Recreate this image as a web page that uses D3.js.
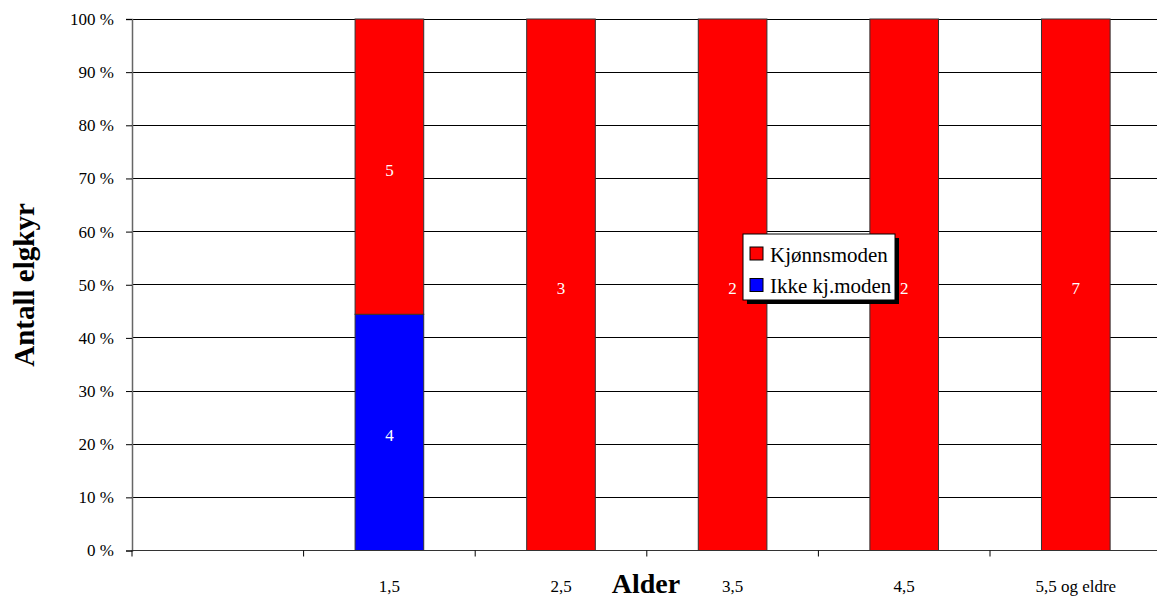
<!DOCTYPE html>
<html><head><meta charset="utf-8">
<script src="https://cdn.jsdelivr.net/npm/d3@7"></script>
<style>body{margin:0;background:#fff;overflow:hidden}svg{display:block}svg text{font-family:"Liberation Serif","Times New Roman",serif}</style>
</head><body>
<svg id="c" width="1157" height="599"></svg>
<script>
const categories = ["", "1,5", "2,5", "3,5", "4,5", "5,5 og eldre"];
const ikkeModen = [0, 4, 0, 0, 0, 0];
const kjonnsmoden = [0, 5, 3, 2, 2, 7];
const seriesNames = ["Kjønnsmoden", "Ikke kj.moden"];
const seriesColors = ["#ff0000", "#0000ff"];
const yTicks = [0,10,20,30,40,50,60,70,80,90,100];

const svg = d3.select("#c");
const font = '"Liberation Serif","Times New Roman",serif';
const mLeft = 132, mTop = 19, mBottom = 550.5, mRight = 1161.6;

const x = d3.scaleBand().domain(categories.map((d,i)=>i)).range([mLeft, mRight]).paddingInner(0.6).paddingOuter(0.3);
const xb = d3.scaleBand().domain(categories.map((d,i)=>i)).range([mLeft, mRight]);
const y = d3.scaleLinear().domain([0,100]).range([mBottom, mTop]);

// gridlines
svg.append("g").selectAll("line").data(yTicks.slice(1)).join("line")
  .attr("x1", mLeft).attr("x2", mRight).attr("y1", d=>y(d)).attr("y2", d=>y(d))
  .attr("stroke", "#000").attr("stroke-width", 1).attr("shape-rendering","crispEdges");

// stacked data
const rows = categories.map((c,i)=>({i, ikke: ikkeModen[i], kj: kjonnsmoden[i], tot: ikkeModen[i]+kjonnsmoden[i]}));
const barG = svg.append("g");
rows.forEach(r=>{
  if (!r.tot) return;
  const segs = [
    {v: r.ikke, y0: 0, y1: r.ikke/r.tot*100, col: seriesColors[1]},
    {v: r.kj, y0: r.ikke/r.tot*100, y1: 100, col: seriesColors[0]}
  ];
  segs.forEach(s=>{
    if (!s.v) return;
    barG.append("rect").attr("x", x(r.i)).attr("width", x.bandwidth())
      .attr("y", y(s.y1)).attr("height", y(s.y0)-y(s.y1))
      .attr("fill", s.col).attr("stroke", "#333").attr("stroke-width", 1);
    barG.append("text").attr("x", x(r.i)+x.bandwidth()/2).attr("y", (y(s.y0)+y(s.y1))/2 + 3)
      .attr("dy", "0.35em").attr("text-anchor","middle").attr("fill","#fff")
      .style("font-family", font).style("font-size", "17px").text(s.v);
  });
});

// y axis
const yAxis = d3.axisLeft(y).tickValues(yTicks).tickSize(6).tickFormat(d=>d+" %");
const ya = svg.append("g").attr("transform", `translate(${mLeft},0)`).call(yAxis);
ya.attr("font-family", null).attr("font-size", null);
ya.select(".domain").attr("stroke","#666").attr("stroke-width",1.5);
ya.selectAll(".tick line").attr("stroke","#000");
ya.selectAll("text").style("font-family", font).style("font-size", "17px").attr("fill","#000").attr("x", -18);

// x axis
const xa = svg.append("g").attr("transform", `translate(0,${mBottom})`);
xa.append("line").attr("x1", mLeft).attr("x2", mRight).attr("stroke","#333").attr("stroke-width",1);
const bounds = categories.map((c,i)=>xb(i));
xa.selectAll("line.t").data(bounds).join("line").attr("class","t")
  .attr("x1", d=>d).attr("x2", d=>d).attr("y1",0).attr("y2",6).attr("stroke","#000");
xa.selectAll("text").data(categories).join("text")
  .attr("x", (d,i)=>xb(i)+xb.bandwidth()/2).attr("y", 41)
  .attr("text-anchor","middle").style("font-family", font).style("font-size", "17px").text(d=>d);

// axis titles
svg.append("text").attr("transform", "translate(34,285) rotate(-90)").attr("text-anchor","middle")
  .style("font-family", font).style("font-size", "29px").attr("font-weight","bold").text("Antall elgkyr");
svg.append("text").attr("x", 646).attr("y", 593).attr("text-anchor","middle")
  .style("font-family", font).style("font-size", "28px").attr("font-weight","bold").text("Alder");

// legend
const lg = svg.append("g").attr("transform","translate(743,234)");
lg.append("rect").attr("x",4).attr("y",4).attr("width",152).attr("height",66).attr("fill","#000");
lg.append("rect").attr("x",0).attr("y",0).attr("width",152).attr("height",66).attr("fill","#fff").attr("stroke","#000").attr("stroke-width",1);
seriesNames.forEach((n,i)=>{
  const g = lg.append("g").attr("transform", `translate(7,${13+i*31.5})`);
  g.append("rect").attr("width",13).attr("height",13).attr("fill",seriesColors[i]).attr("stroke","#000");
  g.append("text").attr("x",20).attr("y",14.5).style("font-family",font).style("font-size","21px").text(n);
});
</script>
</body></html>
